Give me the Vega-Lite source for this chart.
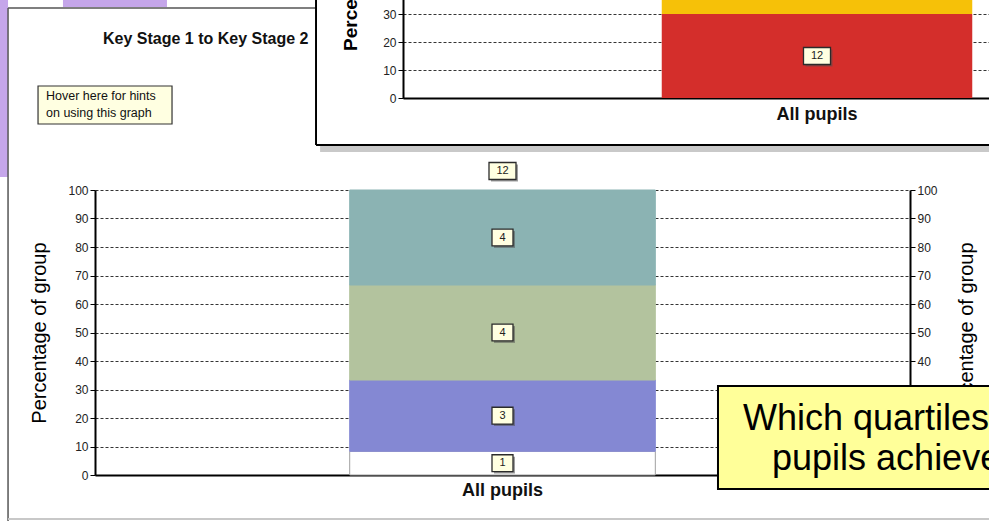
{
  "$schema": "https://vega.github.io/schema/vega-lite/v6.json",
  "width": 815,
  "height": 285,
  "autosize": {"type": "none"},
  "padding": {"left": 95, "top": 190, "right": 79, "bottom": 46},
  "background": "white",
  "config": {"view": {"stroke": null}, "font": "Liberation Sans"},
  "datasets": {
    "ks1ks2": [
      {"group": "All pupils", "quartile": "Bottom quartile", "rank": 1, "pupils": 1},
      {"group": "All pupils", "quartile": "Lower middle quartile", "rank": 2, "pupils": 3},
      {"group": "All pupils", "quartile": "Upper middle quartile", "rank": 3, "pupils": 4},
      {"group": "All pupils", "quartile": "Top quartile", "rank": 4, "pupils": 4}
    ],
    "behind": [
      {"group": "All pupils", "band": "Red", "rank": 1, "pupils": 12},
      {"group": "All pupils", "band": "Yellow", "rank": 2, "pupils": 28}
    ]
  },
  "layer": [
    {
      "data": {"name": "ks1ks2"},
      "transform": [
        {"stack": "pupils", "groupby": ["group"], "sort": [{"field": "rank", "order": "ascending"}], "offset": "normalize", "as": ["share_lo", "share_hi"]}
      ],
      "mark": {"type": "bar", "strokeWidth": 1},
      "encoding": {
        "x": {"field": "group", "type": "nominal", "title": null,
          "scale": {"paddingInner": 0.4, "paddingOuter": 0.5},
          "axis": {"orient": "bottom", "ticks": false, "domainColor": "#000", "domainWidth": 2, "labelFontSize": 18, "labelFontWeight": "bold", "labelColor": "#111", "labelPadding": 6, "labelAngle": 0}},
        "y": {"field": "share_lo", "type": "quantitative", "scale": {"domain": [0, 1]},
          "axis": {"orient": "left", "values": [0, 0.1, 0.2, 0.3, 0.4, 0.5, 0.6, 0.7, 0.8, 0.9, 1], "labelExpr": "format(datum.value * 100, 'd')",
            "title": "Percentage of group", "titleFontSize": 20, "titleFontWeight": "normal", "titleColor": "#000", "titlePadding": 18,
            "labelFontSize": 12, "labelColor": "#222", "labelPadding": 2, "domainColor": "#000", "domainWidth": 2, "tickColor": "#000", "tickSize": 5,
            "grid": true, "gridColor": "#000", "gridDash": [3, 2], "gridWidth": 0.8, "gridOpacity": 1}},
        "y2": {"field": "share_hi"},
        "fill": {"field": "quartile", "type": "nominal", "legend": null,
          "scale": {"domain": ["Bottom quartile", "Lower middle quartile", "Upper middle quartile", "Top quartile"], "range": ["#FFFFFF", "#8488D3", "#B3C39E", "#8BB3B3"]}},
        "stroke": {"field": "quartile", "type": "nominal", "legend": null,
          "scale": {"domain": ["Bottom quartile", "Lower middle quartile", "Upper middle quartile", "Top quartile"], "range": ["#A0A0A0", "#8488D3", "#B3C39E", "#8BB3B3"]}}
      }
    },
    {
      "data": {"name": "ks1ks2"},
      "transform": [
        {"stack": "pupils", "groupby": ["group"], "sort": [{"field": "rank", "order": "ascending"}], "offset": "normalize", "as": ["share_lo", "share_hi"]},
        {"fold": ["share_lo", "share_hi"], "as": ["edge", "share"]},
        {"aggregate": [{"op": "mean", "field": "share", "as": "share_mid"}], "groupby": ["group", "quartile", "pupils"]}
      ],
      "encoding": {
        "x": {"field": "group", "type": "nominal", "title": null, "scale": {"paddingInner": 0.4, "paddingOuter": 0.5}, "axis": null},
        "y": {"field": "share_mid", "type": "quantitative", "scale": {"domain": [0, 1]},
          "axis": {"orient": "right", "values": [0.4, 0.5, 0.6, 0.7, 0.8, 0.9, 1], "labelExpr": "format(datum.value * 100, 'd')",
            "title": "Percentage of group", "titleFontSize": 20, "titleFontWeight": "normal", "titleColor": "#000", "titlePadding": 39, "titleAngle": 270,
            "labelFontSize": 12, "labelColor": "#222", "labelPadding": 2, "domainColor": "#000", "domainWidth": 2, "tickColor": "#000", "tickSize": 5, "grid": false}}
      },
      "layer": [
        {"mark": {"type": "point", "shape": "M-1,-0.8H1V0.8H-1Z", "size": 441, "filled": true, "fill": "#505050", "opacity": 0.55, "xOffset": 2, "yOffset": 2}},
        {"mark": {"type": "point", "shape": "M-1,-0.8H1V0.8H-1Z", "size": 441, "filled": true, "fill": "#FFFFE1", "stroke": "#2b2b2b", "strokeWidth": 1.3, "opacity": 1}},
        {"mark": {"type": "text", "fontSize": 11, "color": "#222", "baseline": "middle", "align": "center"},
         "encoding": {"text": {"field": "pupils", "type": "quantitative"}}}
      ]
    },
    {
      "data": {"name": "ks1ks2"},
      "transform": [{"aggregate": [{"op": "sum", "field": "pupils", "as": "total"}], "groupby": ["group"]}],
      "encoding": {
        "x": {"field": "group", "type": "nominal", "title": null, "scale": {"paddingInner": 0.4, "paddingOuter": 0.5}, "axis": null},
        "y": {"datum": 1, "type": "quantitative", "scale": {"domain": [0, 1]}, "axis": null}
      },
      "layer": [
        {"mark": {"type": "point", "shape": "M-1,-0.63H1V0.63H-1Z", "size": 729, "filled": true, "fill": "#505050", "opacity": 0.55, "xOffset": 2, "yOffset": -17}},
        {"mark": {"type": "point", "shape": "M-1,-0.63H1V0.63H-1Z", "size": 729, "filled": true, "fill": "#FFFFE1", "stroke": "#2b2b2b", "strokeWidth": 1.3, "opacity": 1, "yOffset": -19}},
        {"mark": {"type": "text", "fontSize": 11, "color": "#222", "baseline": "middle", "align": "center", "dy": -19},
         "encoding": {"text": {"field": "total", "type": "quantitative"}}}
      ]
    },
    {
      "data": {"name": "behind"},
      "transform": [
        {"stack": "pupils", "groupby": ["group"], "sort": [{"field": "rank", "order": "ascending"}], "offset": "normalize", "as": ["share_lo", "share_hi"]}
      ],
      "mark": {"type": "bar"},
      "encoding": {
        "x": {"field": "group", "type": "nominal", "title": null,
          "scale": {"range": [308, 1136], "paddingInner": 0.4, "paddingOuter": 0.5},
          "axis": {"orient": "bottom", "offset": -377, "ticks": false, "domainColor": "#000", "domainWidth": 2, "labelFontSize": 18, "labelFontWeight": "bold", "labelColor": "#111", "labelPadding": 7, "labelAngle": 0}},
        "y": {"field": "share_lo", "type": "quantitative", "scale": {"domain": [0, 1], "range": [-92, -372]},
          "axis": {"orient": "left", "offset": -308, "values": [0, 0.1, 0.2, 0.3], "labelExpr": "format(datum.value * 100, 'd')",
            "title": "Percentage of group", "titleFontSize": 19, "titleFontWeight": "bold", "titleColor": "#000", "titlePadding": 22,
            "labelFontSize": 12, "labelColor": "#222", "labelPadding": 2, "domainColor": "#000", "domainWidth": 2, "tickColor": "#000", "tickSize": 5,
            "grid": true, "gridColor": "#000", "gridDash": [3, 2], "gridWidth": 0.8, "gridOpacity": 1}},
        "y2": {"field": "share_hi"},
        "fill": {"field": "band", "type": "nominal", "legend": null,
          "scale": {"domain": ["Red", "Yellow"], "range": ["#D42E2B", "#F6C108"]}}
      }
    },
    {
      "data": {"name": "behind"},
      "transform": [
        {"stack": "pupils", "groupby": ["group"], "sort": [{"field": "rank", "order": "ascending"}], "offset": "normalize", "as": ["share_lo", "share_hi"]},
        {"fold": ["share_lo", "share_hi"], "as": ["edge", "share"]},
        {"aggregate": [{"op": "mean", "field": "share", "as": "share_mid"}], "groupby": ["group", "band", "pupils"]},
        {"filter": "datum.band == 'Red'"}
      ],
      "encoding": {
        "x": {"field": "group", "type": "nominal", "title": null, "scale": {"range": [308, 1136], "paddingInner": 0.4, "paddingOuter": 0.5}, "axis": null},
        "y": {"field": "share_mid", "type": "quantitative", "scale": {"domain": [0, 1], "range": [-92, -372]}, "axis": null}
      },
      "layer": [
        {"mark": {"type": "point", "shape": "M-1,-0.63H1V0.63H-1Z", "size": 729, "filled": true, "fill": "#505050", "opacity": 0.55, "xOffset": 2, "yOffset": 2}},
        {"mark": {"type": "point", "shape": "M-1,-0.63H1V0.63H-1Z", "size": 729, "filled": true, "fill": "#FFFFE1", "stroke": "#2b2b2b", "strokeWidth": 1.3, "opacity": 1}},
        {"mark": {"type": "text", "fontSize": 11, "color": "#222", "baseline": "middle", "align": "center"},
         "encoding": {"text": {"field": "pupils", "type": "quantitative"}}}
      ]
    },
    {
      "data": {"values": [{}]},
      "layer": [
        {
          "mark": {"type": "rect", "fill": "#C5A6EA"},
          "encoding": {
            "x": {"datum": -0.1166, "type": "quantitative", "scale": {"domain": [0, 1]}, "axis": null},
            "x2": {"datum": -0.1067},
            "y": {"datum": 1.0456, "type": "quantitative", "scale": {"domain": [0, 1]}, "axis": null},
            "y2": {"datum": 1.7}
          }
        },
        {
          "mark": {"type": "rect", "fill": "#C5A6EA"},
          "encoding": {
            "x": {"datum": -0.0393, "type": "quantitative"},
            "x2": {"datum": 0.0883},
            "y": {"datum": 1.642, "type": "quantitative"},
            "y2": {"datum": 1.7}
          }
        },
        {
          "mark": {"type": "rule", "color": "#555", "strokeWidth": 1.5},
          "encoding": {
            "x": {"datum": -0.1067, "type": "quantitative"},
            "y": {"datum": 1.6386, "type": "quantitative"},
            "y2": {"datum": -0.2}
          }
        },
        {
          "mark": {"type": "rule", "color": "#555", "strokeWidth": 1.5},
          "encoding": {
            "x": {"datum": -0.1067, "type": "quantitative"},
            "x2": {"datum": 0.2712},
            "y": {"datum": 1.6386, "type": "quantitative"}
          }
        },
        {
          "mark": {"type": "rule", "color": "#C8C8C8", "strokeWidth": 2},
          "encoding": {
            "x": {"datum": -0.1067, "type": "quantitative"},
            "x2": {"datum": 1.2},
            "y": {"datum": -0.1544, "type": "quantitative"}
          }
        },
        {
          "mark": {"type": "rule", "color": "#BBBBBB", "strokeWidth": 6, "opacity": 0.8, "yOffset": 4},
          "encoding": {
            "x": {"datum": 0.2762, "type": "quantitative"},
            "x2": {"datum": 1.2},
            "y": {"datum": 1.1579, "type": "quantitative"}
          }
        },
        {
          "mark": {"type": "rule", "color": "#000", "strokeWidth": 2},
          "encoding": {
            "x": {"datum": 0.2712, "type": "quantitative"},
            "x2": {"datum": 1.2},
            "y": {"datum": 1.1579, "type": "quantitative"}
          }
        },
        {
          "mark": {"type": "rule", "color": "#000", "strokeWidth": 2},
          "encoding": {
            "x": {"datum": 0.2712, "type": "quantitative"},
            "y": {"datum": 1.1579, "type": "quantitative"},
            "y2": {"datum": 1.7}
          }
        },
        {
          "mark": {"type": "text", "text": "Key Stage 1 to Key Stage 2", "fontSize": 16, "fontWeight": "bold", "color": "#111", "align": "left", "baseline": "alphabetic"},
          "encoding": {
            "x": {"datum": 0.0098, "type": "quantitative"},
            "y": {"datum": 1.5123, "type": "quantitative"}
          }
        },
        {
          "mark": {"type": "rect", "fill": "#505050", "opacity": 0.6, "xOffset": 2, "yOffset": 2},
          "encoding": {
            "x": {"datum": -0.0699, "type": "quantitative"},
            "x2": {"datum": 0.0945},
            "y": {"datum": 1.3649, "type": "quantitative"},
            "y2": {"datum": 1.2316}
          }
        },
        {
          "mark": {"type": "rect", "fill": "#FFFFE1", "stroke": "#333", "strokeWidth": 1.2},
          "encoding": {
            "x": {"datum": -0.0699, "type": "quantitative"},
            "x2": {"datum": 0.0945},
            "y": {"datum": 1.3649, "type": "quantitative"},
            "y2": {"datum": 1.2316}
          }
        },
        {
          "mark": {"type": "text", "text": ["Hover here for hints", "on using this graph"], "fontSize": 12.5, "lineHeight": 17, "color": "#111", "align": "left", "baseline": "alphabetic"},
          "encoding": {
            "x": {"datum": -0.0601, "type": "quantitative"},
            "y": {"datum": 1.3158, "type": "quantitative"}
          }
        },
        {
          "mark": {"type": "rect", "fill": "#FFFF99", "stroke": "#000", "strokeWidth": 2},
          "encoding": {
            "x": {"datum": 0.7644, "type": "quantitative"},
            "x2": {"datum": 1.2},
            "y": {"datum": 0.3123, "type": "quantitative"},
            "y2": {"datum": -0.0491}
          }
        },
        {
          "mark": {"type": "text", "text": "Which quartiles", "fontSize": 36, "color": "#000", "align": "left", "baseline": "alphabetic"},
          "encoding": {
            "x": {"datum": 0.7951, "type": "quantitative"},
            "y": {"datum": 0.1579, "type": "quantitative"}
          }
        },
        {
          "mark": {"type": "text", "text": "pupils achieve", "fontSize": 36, "color": "#000", "align": "left", "baseline": "alphabetic"},
          "encoding": {
            "x": {"datum": 0.8307, "type": "quantitative"},
            "y": {"datum": 0.0175, "type": "quantitative"}
          }
        }
      ]
    }
  ],
  "resolve": {
    "scale": {"x": "independent", "y": "independent", "fill": "independent", "stroke": "independent"},
    "axis": {"x": "independent", "y": "independent"}
  }
}
